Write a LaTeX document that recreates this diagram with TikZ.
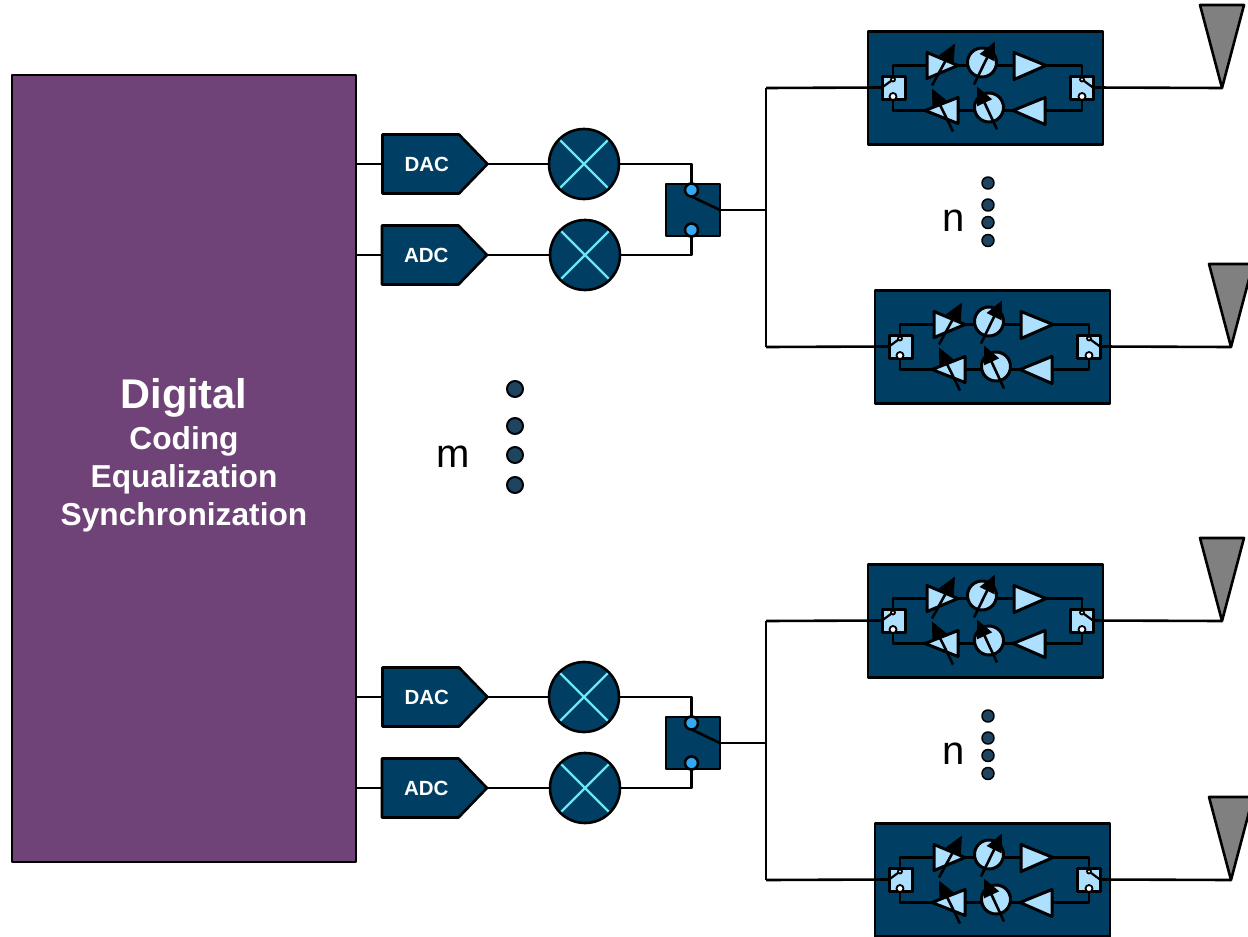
\documentclass[tikz,border=0pt]{standalone}
\usepackage{fontspec}
\setmainfont{Liberation Sans}
\usetikzlibrary{shapes.symbols,arrows.meta}
\definecolor{navy}{HTML}{003F63}
\definecolor{plum}{HTML}{6F4378}
\definecolor{paleblue}{HTML}{ADDFFF}
\definecolor{skyblue}{HTML}{33A9F5}
\definecolor{crossblue}{HTML}{6CE6F5}
\definecolor{dotblue}{HTML}{1F4460}
\tikzset{
	lines/.style = {
		x = 1pt,
		y = -1pt,
		line width = 2.6pt,
		line join = round,
		every node/.style = {outer sep = 0pt}
	},
	converter/.style = {
		signal, signal to = east, signal pointer angle = 92,
		draw, fill = navy, text = white,
		font = \bfseries\fontsize{20.5}{24}\selectfont,
		minimum width = 105pt, minimum height = 59pt,
		inner xsep = 0pt, anchor = west
	},
	mixer/.style = {
		circle, draw, fill = navy, minimum size = 70pt, inner sep = 0pt,
		path picture = {
			\draw[crossblue, line width = 2.2pt]
				(path picture bounding box.north west) -- (path picture bounding box.south east)
				(path picture bounding box.north east) -- (path picture bounding box.south west);
		}
	},
	contact/.style = {circle, draw, fill = skyblue, minimum size = 13pt, inner sep = 0pt},
	minicontact/.style = {circle, draw, line width = 1.8pt, fill = white, inner sep = 0pt},
	amp/.style = {draw, line width = 3pt, fill = paleblue},
	tune/.style = {-{Triangle[length = 18pt, width = 16pt]}, line width = 2.6pt},
	bigdot/.style = {circle, draw, line width = 2pt, fill = dotblue, minimum size = 16pt, inner sep = 0pt},
	smalldot/.style = {circle, draw, line width = 1.5pt, fill = dotblue, minimum size = 12pt, inner sep = 0pt},
	biglabel/.style = {font = \fontsize{40}{44}\selectfont, inner sep = 0pt},
	% One front end, origin at its top left corner
	frontend/.pic = {
		\node[draw, fill = navy, minimum width = 235pt, minimum height = 113pt, anchor = north west, inner sep = 0pt] (-box) at (0,0) {};
		% Rails
		\draw (25,48) -- (25,34) -- (214,34) -- (214,48);
		\draw (25,65) -- (25,79) -- (214,79) -- (214,65);
		% Switches
		\node[amp, minimum width = 23pt, minimum height = 23pt, inner sep = 0pt] (-sl) at (25.5,56) {};
		\node[amp, minimum width = 23pt, minimum height = 23pt, inner sep = 0pt] (-sr) at (213.5,56) {};
		\draw[line width = 2.2pt] (-sl.west) -- (25,48);
		\draw[line width = 2.2pt] (-sr.east) -- (214,48);
		\foreach \x in {25,214} {
			\node[minicontact, minimum size = 4pt] at (\x,48) {};
			\node[minicontact, minimum size = 7pt] at (\x,65) {};
		}
		% Upper path
		\draw[amp] (59,21) -- (59,47) -- (90,34) -- cycle;
		\draw[tune] (64,54) -- (87,12);
		\draw[amp] (114,31) circle (14.5);
		\draw[tune] (106,53) -- (127,10);
		\draw[amp] (146,21) -- (146,48) -- (178,34) -- cycle;
		% Lower path
		\draw[amp] (57,79) -- (90,66) -- (90,92) -- cycle;
		\draw[tune] (85,100) -- (64,57);
		\draw[amp] (121,76) circle (14.5);
		\draw[tune] (129,98) -- (109,55);
		\draw[amp] (145,79) -- (177,66) -- (177,93) -- cycle;
	},
	antenna/.pic = {
		\draw[fill = gray] (-22,-83) -- (22,-83) -- (0,0) -- cycle;
		\coordinate (-tip) at (0,0);
	}
}
\begin{document}
\begin{tikzpicture}[lines]
	% Background
	\path[use as bounding box] (0,0) rectangle (1248,937);

	% Baseband
	\node[draw, fill = plum, minimum width = 344pt, minimum height = 787pt, anchor = north west, inner sep = 0pt] (digital) at (12,75) {};
	\node[text = white, inner sep = 0pt, align = center, font = \bfseries\fontsize{31.7}{38}\selectfont] (digitaltext) at (184,455)
		{{\fontsize{41.5}{44}\selectfont Digital}\\[3pt] Coding\\ Equalization\\ Synchronization};

	% Two identical branches
	\foreach \g/\dy in {a/0,b/533} {
		\begin{scope}[shift={(0,\dy)}]
			\node[converter] (dac\g) at (382.5,164) {\hspace*{12pt}DAC};
			\node[converter] (adc\g) at (382,255) {\hspace*{12pt}ADC};
			\node[mixer] (mixtx\g) at (584,164) {};
			\node[mixer] (mixrx\g) at (585,255) {};
			\node[draw, fill = navy, minimum width = 54pt, minimum height = 52pt, inner sep = 0pt] (sw\g) at (693,210) {};
			\node[contact] (swtx\g) at (691.5,190) {};
			\node[contact] (swrx\g) at (691.5,230) {};
			\coordinate (bus\g) at (766,210);
			\coordinate (tx\g) at (356,164);
			\coordinate (rx\g) at (356,255);
			\coordinate (bustop\g) at (766,88);
			\coordinate (busbot\g) at (766,347);

			\draw (tx\g) -- (dac\g.west);
			\draw (rx\g) -- (adc\g.west);
			\draw (dac\g.east) -- (mixtx\g);
			\draw (adc\g.east) -- (mixrx\g);
			\draw (mixtx\g) -| (swtx\g.north);
			\draw (mixrx\g) -| (swrx\g.south);
			\draw (swtx\g.south) -- (sw\g.east);
			\draw (sw\g.east) -- (bus\g);

			\pic (top\g) at (868,31.5) {frontend};
			\pic (bot\g) at (875,290.5) {frontend};
			\pic (anttop\g) at (1222,88) {antenna};
			\pic (antbot\g) at (1231,347) {antenna};

			\draw (bustop\g) -- (busbot\g);
			\draw (bustop\g) -- (top\g-sl.west);
			\draw (busbot\g) -- (bot\g-sl.west);
			\draw (top\g-sr.east) -- (anttop\g-tip);
			\draw (bot\g-sr.east) -- (antbot\g-tip);

			% Dots between the front ends
			\foreach \y in {183,205,222.5,240.5} {
				\node[smalldot] at (988,\y) {};
			}
			\node[biglabel] (n\g) at (954,221) {n};
		\end{scope}
	}

	% Dots between the branches
	\foreach \y in {389,426,455,485} {
		\node[bigdot] at (515,\y) {};
	}
	\node[biglabel] (m) at (453,457) {m};
\end{tikzpicture}
\end{document}
